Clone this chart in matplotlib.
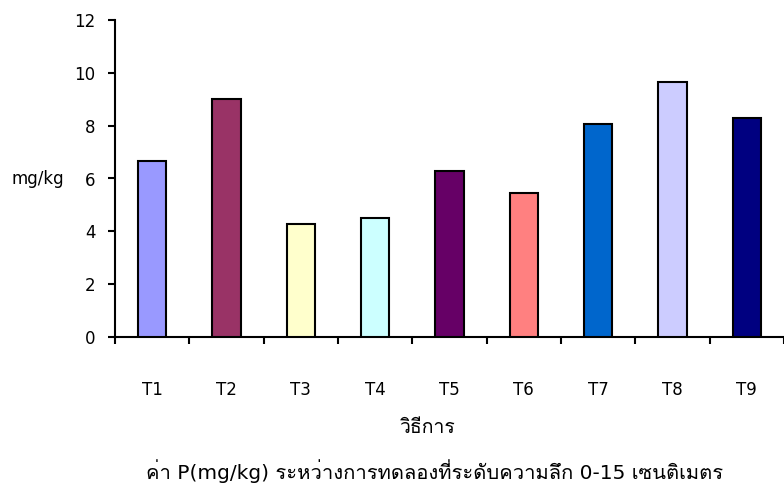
import matplotlib
matplotlib.use("Agg")
import matplotlib.pyplot as plt
from matplotlib import font_manager
from matplotlib.ft2font import FT2Font

# Treatments and phosphorus values (mg/kg) at 0-15 cm depth
treatments = ["T1", "T2", "T3", "T4", "T5", "T6", "T7", "T8", "T9"]
p_values = [6.66, 9.01, 4.28, 4.50, 6.30, 5.44, 8.07, 9.66, 8.29]
bar_colors = ["#9999FF", "#993366", "#FFFFCC", "#CCFFFF", "#660066",
              "#FF8080", "#0066CC", "#CCCCFF", "#000080"]
y_ticks = [0, 2, 4, 6, 8, 10, 12]

y_label = "mg/kg"
x_label = "วิธีการ"
caption = "ค่า P(mg/kg) ระหว่างการทดลองที่ระดับความลึก 0-15 เซนติเมตร"


def find_thai_family():
    """Return the name of an installed font family that covers Thai."""
    preferred = ["Tahoma", "Loma", "Noto Sans Thai", "Garuda", "Waree",
                 "Sarabun", "Umpush", "Kinnari", "Norasi"]
    found = []
    for entry in font_manager.fontManager.ttflist:
        try:
            cmap = FT2Font(entry.fname).get_charmap()
        except Exception:
            continue
        if 0x0E27 in cmap and 0x0E34 in cmap:
            found.append(entry.name)
    for name in preferred:
        if name in found:
            return name
    return found[0] if found else None


thai_family = find_thai_family()
families = ["DejaVu Sans"] + ([thai_family] if thai_family else [])
plt.rcParams["font.family"] = families
plt.rcParams["font.size"] = 12

fig = plt.figure(figsize=(7.84, 4.90), dpi=100)
ax = fig.add_axes([115 / 784, 1 - 337 / 490, 669 / 784, 317 / 490])

x = list(range(len(treatments)))
ax.bar(x, p_values, width=0.38, color=bar_colors,
       edgecolor="black", linewidth=1.5, zorder=3)

ax.set_xlim(-0.5, len(treatments) - 0.5)
ax.set_ylim(0, 12)
ax.set_yticks(y_ticks)

# Category boundaries carry the tick marks, category centres carry the labels
ax.set_xticks([i - 0.5 for i in range(len(treatments) + 1)])
ax.set_xticklabels([])
ax.set_xticks(x, minor=True)
ax.set_xticklabels(treatments, minor=True)
ax.tick_params(axis="x", which="major", direction="out", length=5, width=1.5)
ax.tick_params(axis="x", which="minor", length=0, pad=32)
ax.tick_params(axis="y", direction="out", length=5, width=1.5, pad=9)

for side in ("top", "right"):
    ax.spines[side].set_visible(False)
for side in ("left", "bottom"):
    ax.spines[side].set_linewidth(1.5)
    ax.spines[side].set_color("black")
ax.spines["bottom"].set_clip_on(False)

ax.set_ylabel(y_label, rotation=0, ha="center", va="center")
ax.yaxis.set_label_coords(-0.115, 0.5)
ax.set_xlabel(x_label, ha="center", va="center", fontsize=14)
ax.xaxis.set_label_coords(0.468, -0.284)

ax.text(0.477, -0.423, caption, transform=ax.transAxes,
        ha="center", va="center", fontsize=14.5)

fig.savefig("out.png", dpi=100)
